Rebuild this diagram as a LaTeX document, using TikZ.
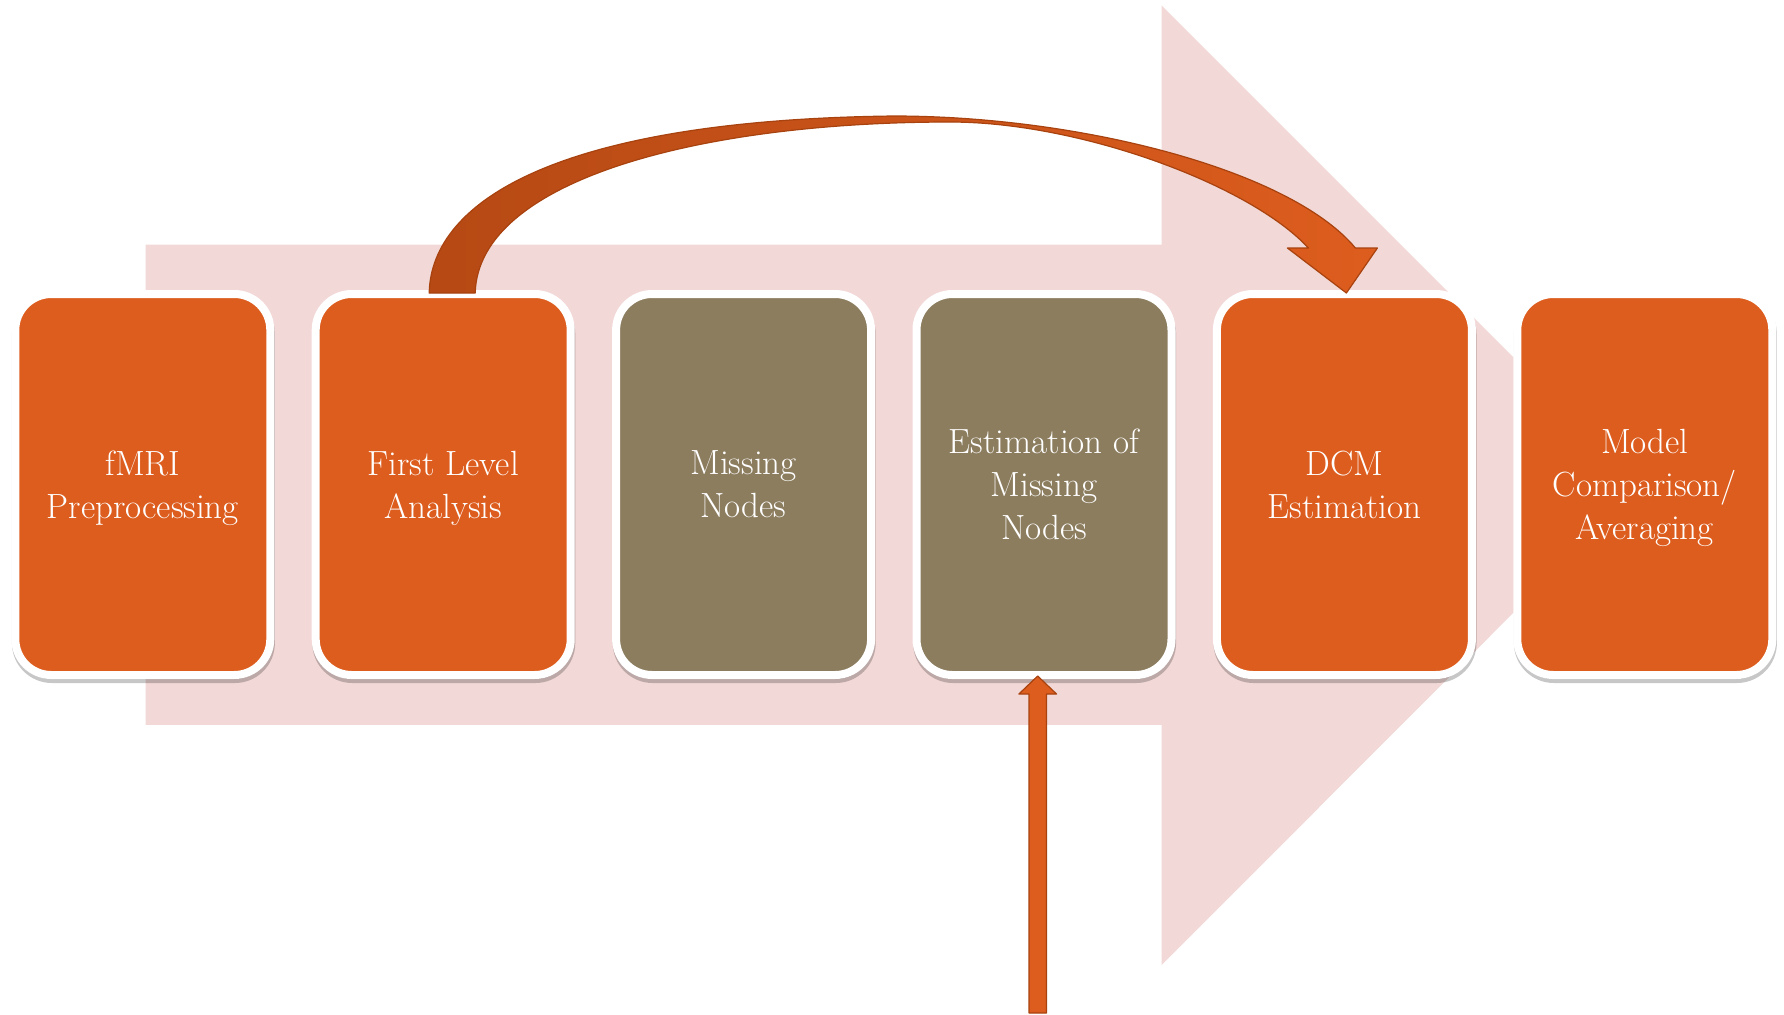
\documentclass[tikz,border=0pt]{standalone}
\usepackage{fontspec}
\usetikzlibrary{positioning,calc,shadows}
\definecolor{pipeorange}{HTML}{DD5D1E}
\definecolor{pipebrown}{HTML}{8C7D5F}
\definecolor{pipepink}{HTML}{F2D8D6}
\definecolor{pipedark}{HTML}{B64914}
\definecolor{pipeedge}{HTML}{A8420F}

\begin{document}
\begin{tikzpicture}[x=0.5pt, y=-0.5pt, node distance=18.7pt,
  cell/.style={draw=white, line width=4pt, rounded corners=18pt, minimum width=127.5pt, minimum height=190.5pt,
    align=center, text=white, font=\fontsize{17.5}{21.5}\selectfont, text depth=-3pt,
    drop shadow={shadow xshift=0.3pt, shadow yshift=-2pt, fill=black, draw=black, opacity=0.22}},
  ocell/.style={cell, fill=pipeorange},
  gcell/.style={cell, fill=pipebrown},
  blk/.style={draw=pipeedge, line width=0.6pt, line join=round}]
  \useasboundingbox (0,0) rectangle (1784,1014);
  % background arrow
  \fill[pipepink] (145.6,244.6) -- (1161.7,244.6) -- (1161.7,5.7) -- (1641,485) -- (1161.7,965) -- (1161.7,724.8) -- (145.6,724.8) -- cycle;
  % stages
  \node[ocell] (pre) at (142.8,484.5) {fMRI\\Preprocessing};
  \node[ocell, right=of pre] (fla) {First Level\\Analysis};
  \node[gcell, right=of fla] (miss) {Missing\\Nodes};
  \node[gcell, right=of miss] (est) {Estimation of\\Missing\\Nodes};
  \node[ocell, right=of est] (dcm) {DCM\\Estimation};
  \node[ocell, right=of dcm] (bms) {Model\\Comparison/\\Averaging};
  % curved arrow
  \draw[blk, left color=pipedark, right color=pipeorange]
    ($(fla.north)+(-14,3)$) .. controls ($(fla.north)+(-12,-90)$) and ($(fla.north)+(117,-170)$) .. ($(fla.north)+(450,-174)$)
    .. controls ($(dcm.north)+(-264,-174)$) and ($(dcm.north)+(-54,-120)$) .. ($(dcm.north)+(11,-42)$)
    -- ($(dcm.north)+(33,-42)$) -- ($(dcm.north)+(2,3)$) -- ($(dcm.north)+(-57,-42)$) -- ($(dcm.north)+(-36,-42)$)
    .. controls ($(dcm.north)+(-94,-105)$) and ($(dcm.north)+(-264,-168)$) .. ($(fla.north)+(507,-168)$)
    .. controls ($(fla.north)+(257,-168)$) and ($(fla.north)+(35,-110)$) .. ($(fla.north)+(32,3)$) -- cycle;
  % input arrow
  \coordinate (feed) at (1037.7,1013);
  \draw[blk, fill=pipeorange] let \p1=(feed), \p2=($(est.south)+(-6.2,-3)$) in
    (\x1-4.35pt,\y1) -- (\x1-4.35pt,\y2-9pt) -- (\x1-9.4pt,\y2-9pt) -- (\x1,\y2)
    -- (\x1+9.4pt,\y2-9pt) -- (\x1+4.35pt,\y2-9pt) -- (\x1+4.35pt,\y1) -- cycle;
\end{tikzpicture}
\end{document}
